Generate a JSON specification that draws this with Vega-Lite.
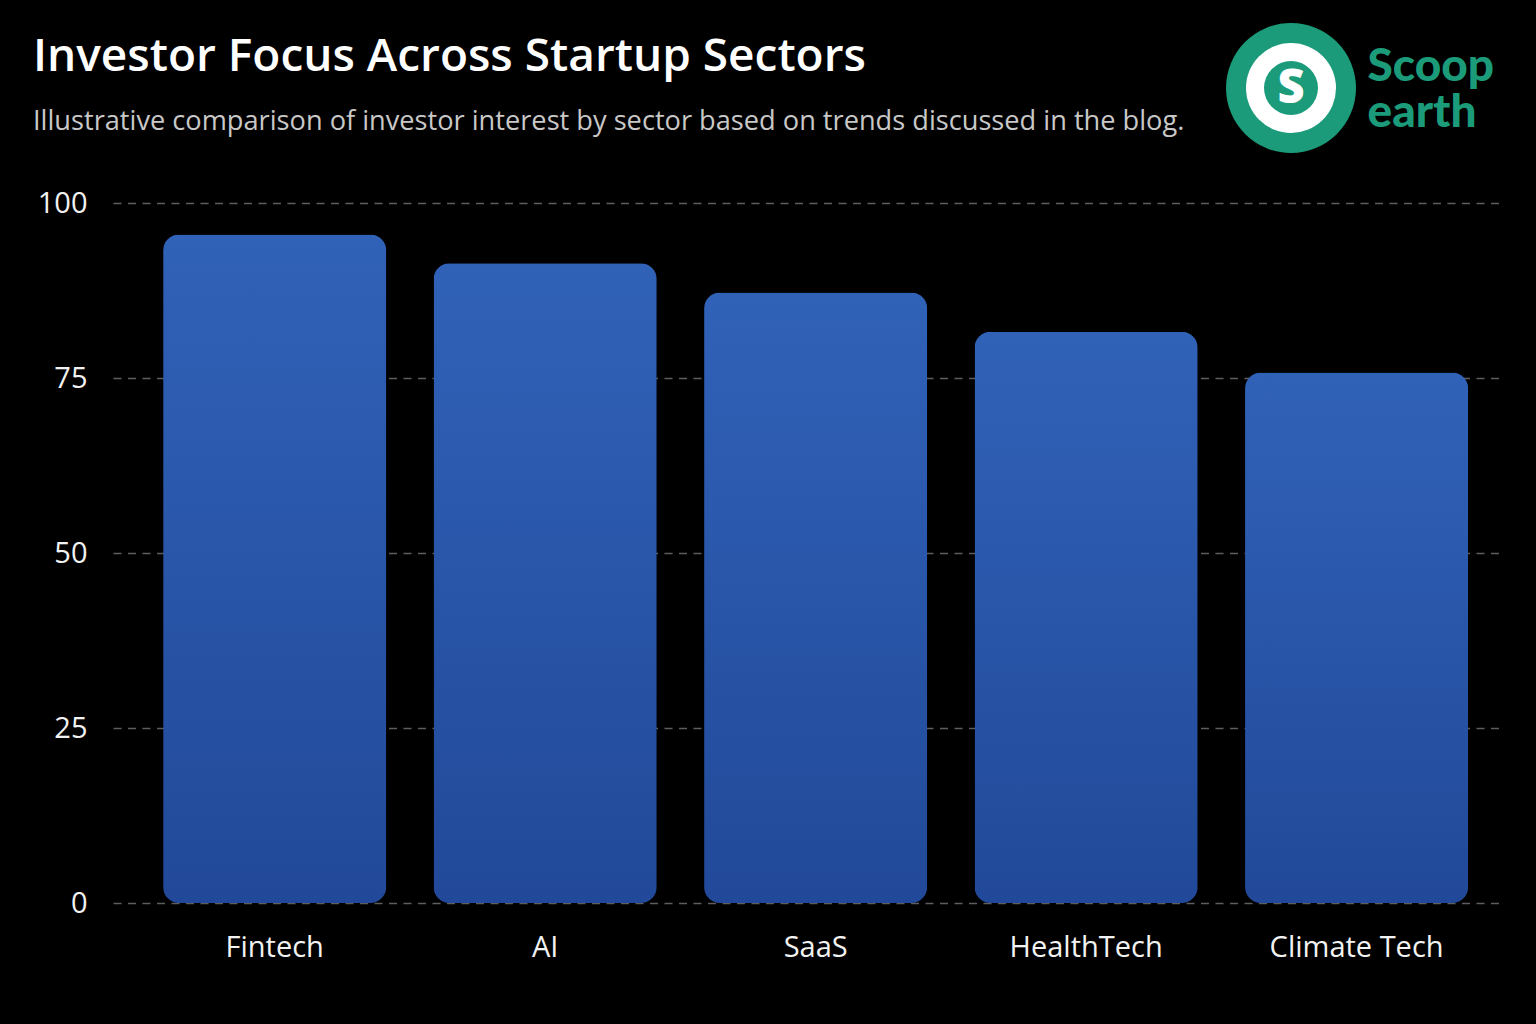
{
  "$schema": "https://vega.github.io/schema/vega-lite/v6.json",
  "background": "#000000",
  "padding": {"left": 33, "top": 23, "right": 33, "bottom": 62},
  "config": {
    "view": {"stroke": null},
    "font": "Open Sans"
  },
  "datasets": {
    "sectors": [
      {"sector": "Fintech", "interest": 95.5},
      {"sector": "AI", "interest": 91.4},
      {"sector": "SaaS", "interest": 87.2},
      {"sector": "HealthTech", "interest": 81.6},
      {"sector": "Climate Tech", "interest": 75.8}
    ],
    "header": [
      {
        "title": "Investor Focus Across Startup Sectors",
        "subtitle": "Illustrative comparison of investor interest by sector based on trends discussed in the blog."
      }
    ],
    "logo": [{"mark": "S", "line1": "Scoop", "line2": "earth"}]
  },
  "concat": [
    {
      "hconcat": [
        {
          "width": 1,
          "height": 130,
          "data": {"name": "header"},
          "layer": [
            {
              "mark": {"type": "text", "font": "Open Sans", "fontWeight": 600, "fontSize": 46, "color": "#ffffff", "align": "left", "baseline": "alphabetic", "dx": -80.5, "dy": -17},
              "encoding": {"text": {"field": "title"}}
            },
            {
              "mark": {"type": "text", "font": "Open Sans", "fontWeight": 400, "fontSize": 27.2, "color": "#c8c8c8", "align": "left", "baseline": "alphabetic", "dx": -80.5, "dy": 42},
              "encoding": {"text": {"field": "subtitle"}}
            }
          ]
        },
        {
          "hconcat": [
            {
              "width": 130,
              "height": 130,
              "data": {"name": "logo"},
              "layer": [
                {"mark": {"type": "circle", "size": 16900, "color": "#1b9b7a", "opacity": 1}},
                {"mark": {"type": "circle", "size": 8100, "color": "#ffffff", "opacity": 1}},
                {"mark": {"type": "circle", "size": 2916, "color": "#1b9b7a", "opacity": 1}},
                {
                  "mark": {"type": "text", "font": "Open Sans", "fontWeight": 800, "fontSize": 47, "color": "#ffffff", "baseline": "middle", "align": "center", "dy": 1},
                  "encoding": {"text": {"field": "mark"}}
                }
              ]
            },
            {
              "width": 1,
              "height": 130,
              "data": {"name": "logo"},
              "layer": [
                {
                  "mark": {"type": "text", "font": "Lato", "fontWeight": 900, "fontSize": 46, "color": "#1b9b7a", "align": "left", "baseline": "middle", "dy": -21},
                  "encoding": {"text": {"field": "line1"}}
                },
                {
                  "mark": {"type": "text", "font": "Lato", "fontWeight": 900, "fontSize": 46, "color": "#1b9b7a", "align": "left", "baseline": "middle", "dy": 25},
                  "encoding": {"text": {"field": "line2"}}
                }
              ]
            }
          ],
          "spacing": 11
        }
      ],
      "spacing": 41
    },
    {
      "width": 1390,
      "height": 700,
      "data": {"name": "sectors"},
      "mark": {
        "type": "bar",
        "cornerRadius": 16,
        "color": {
          "gradient": "linear",
          "x1": 0, "y1": 0, "x2": 0, "y2": 1,
          "stops": [
            {"offset": 0, "color": "#3062b8"},
            {"offset": 1, "color": "#224999"}
          ]
        }
      },
      "encoding": {
        "x": {
          "field": "sector",
          "type": "nominal",
          "sort": null,
          "scale": {"paddingInner": 0.175, "paddingOuter": 0.157, "align": 0.59},
          "axis": {
            "title": null,
            "labelAngle": 0,
            "labelFont": "Open Sans",
            "labelFontSize": 29,
            "labelColor": "#f2f2f2",
            "labelPadding": 30,
            "domain": false,
            "ticks": false,
            "grid": false
          }
        },
        "y": {
          "field": "interest",
          "type": "quantitative",
          "scale": {"domain": [0, 100], "nice": false},
          "axis": {
            "title": null,
            "values": [0, 25, 50, 75, 100],
            "labelFont": "Open Sans",
            "labelFontSize": 29,
            "labelColor": "#f2f2f2",
            "labelPadding": 26,
            "domain": false,
            "ticks": false,
            "grid": true,
            "gridColor": "#5e5e5e",
            "gridDash": [8, 6.5],
            "gridWidth": 1.5
          }
        }
      }
    }
  ],
  "columns": 1,
  "spacing": 36
}
